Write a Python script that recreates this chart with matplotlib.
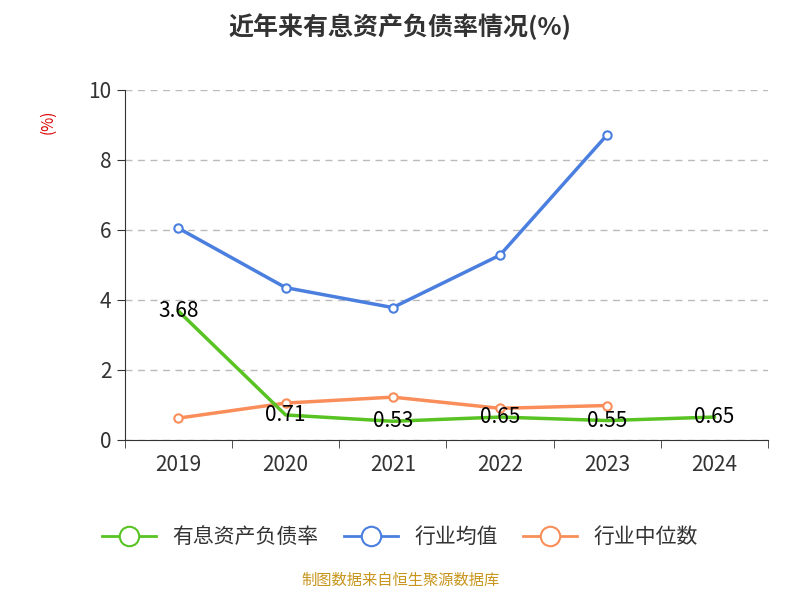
import matplotlib
matplotlib.use("Agg")
import matplotlib.pyplot as plt
from matplotlib.lines import Line2D
from matplotlib import font_manager as fm
import glob

cjk = None
for f in glob.glob('/usr/share/fonts/**/*CJK*', recursive=True) + glob.glob('/usr/local/share/fonts/**/*CJK*', recursive=True):
    try:
        fm.fontManager.addfont(f)
    except Exception:
        pass
names = {f.name for f in fm.fontManager.ttflist}
for n in ['Noto Sans CJK SC', 'Noto Sans CJK JP', 'Noto Sans CJK TC', 'Noto Sans CJK KR']:
    if n in names:
        cjk = n
        break
plt.rcParams['font.family'] = [cjk or 'Noto Sans CJK SC', 'DejaVu Sans']
plt.rcParams['font.sans-serif'] = [cjk or 'Noto Sans CJK SC', 'DejaVu Sans']

years = ["2019", "2020", "2021", "2022", "2023", "2024"]
ratio = [3.68, 0.71, 0.53, 0.65, 0.55, 0.65]
ind_mean = [6.05, 4.35, 3.78, 5.28, 8.72]
ind_median = [0.62, 1.05, 1.22, 0.90, 0.98]

fig = plt.figure(figsize=(8, 6), dpi=100)
ax = fig.add_axes([0.156, 0.267, 0.804, 0.583])
x = list(range(len(years)))

ax.plot(x[:len(ind_mean)], ind_mean, color='#4a7fdf', lw=2.5, marker='o', ms=6,
        mfc='white', mec='#4a7fdf', mew=1.5, zorder=3)
ax.plot(x[:len(ind_median)], ind_median, color='#f98e5a', lw=2.5, marker='o', ms=6,
        mfc='white', mec='#f98e5a', mew=1.5, zorder=3)
ax.plot(x, ratio, color='#58c322', lw=2.5, zorder=4)
for i, v in enumerate(ratio):
    ax.text(i, v, f"{v:.2f}", ha='center', va='center', fontsize=15, color='black', zorder=5)

ax.set_xlim(-0.5, 5.5)
ax.set_ylim(0, 10)
ax.set_yticks([0, 2, 4, 6, 8, 10])
ax.set_xticks(x)
ax.set_xticklabels(years)
ax.set_xticks([i - 0.5 for i in range(7)], minor=True)
ax.tick_params(axis='x', which='major', length=0, labelsize=15, colors='#333333', pad=10)
ax.tick_params(axis='x', which='minor', length=6, color='#333333')
ax.tick_params(axis='y', length=6, labelsize=15, colors='#333333', direction='out')
ax.grid(axis='y', ls=(0, (5, 4)), color='#bbbbbb', lw=1)
for s in ['top', 'right']:
    ax.spines[s].set_visible(False)
ax.spines['left'].set_color('#333333')
ax.spines['bottom'].set_color('#333333')
ax.text(-0.12, 0.91, "(%)", transform=ax.transAxes, rotation=90, color='#dd0000',
        fontsize=11, ha='center', va='center')

fig.text(0.5, 0.955, "近年来有息资产负债率情况(%)", ha='center', va='center',
         fontsize=18, fontweight='bold', color='#333333')

handles = [Line2D([], [], color=c, lw=2, marker='o', ms=14, mfc='white', mec=c, mew=1.5)
           for c in ['#58c322', '#4a7fdf', '#f98e5a']]
fig.legend(handles, ["有息资产负债率", "行业均值", "行业中位数"], loc='center',
           bbox_to_anchor=(0.5, 0.105), ncol=3, frameon=False, fontsize=15,
           handlelength=2.6, columnspacing=1.2, labelcolor='#333333')
fig.text(0.5, 0.018, "制图数据来自恒生聚源数据库", ha='center', va='bottom',
         fontsize=11, color='#c8961e')
fig.savefig("out.png")
